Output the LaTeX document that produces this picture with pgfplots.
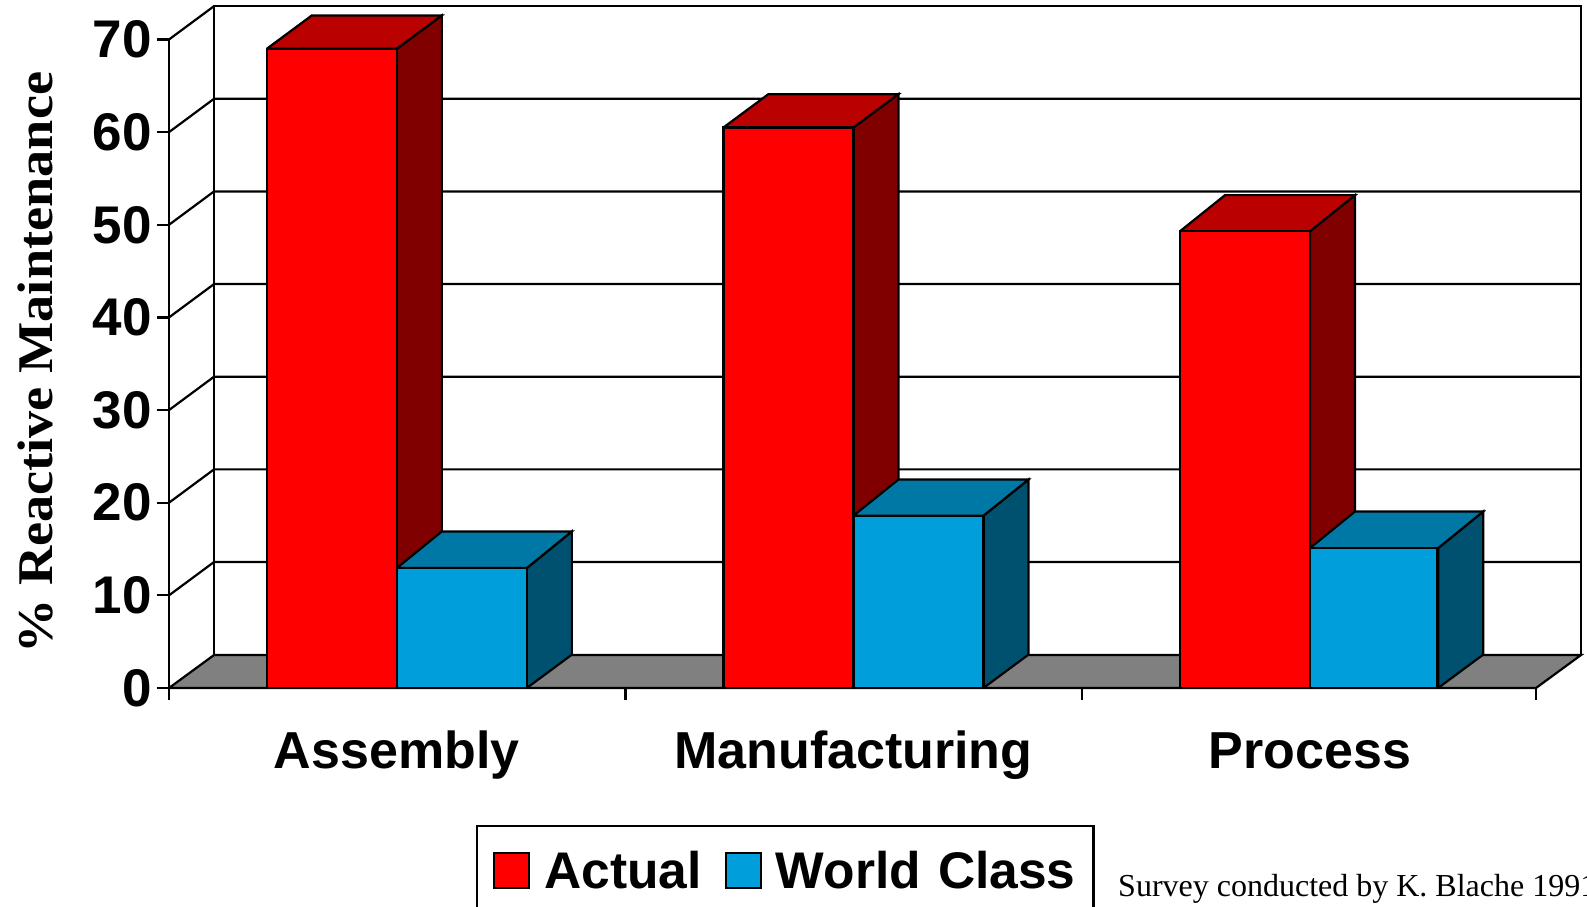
\documentclass[border=0pt]{standalone}
\usepackage{pgfplots}
\usepackage{fontspec}
\setmainfont{Liberation Sans}
\newfontfamily\tms{Liberation Serif}
\pgfplotsset{compat=1.18}
\definecolor{redfront}{RGB}{255,0,0}
\definecolor{redtop}{RGB}{187,0,0}
\definecolor{redside}{RGB}{128,0,0}
\definecolor{bluefront}{RGB}{0,159,219}
\definecolor{bluetop}{RGB}{0,120,165}
\definecolor{blueside}{RGB}{0,80,112}
\definecolor{floorgray}{RGB}{128,128,128}
\begin{document}
\begin{tikzpicture}[line join=miter]
\clip (-169pt,-218pt) rectangle (1418pt,688pt);
\begin{axis}[
  at={(0pt,0pt)}, anchor=south west,
  scale only axis, width=1367pt, height=648.5pt,
  xmin=-0.5, xmax=2.5, ymin=0, ymax=70,
  clip=false, axis on top=true,
  axis x line*=bottom, axis y line*=left,
  axis line style={-,line width=2.2pt,black},
  xtick={0,1.002,2.004}, xticklabels={Assembly,Manufacturing,Process},
  minor xtick={-0.5,0.502,1.503,2.5},
  ytick={0,10,...,70},
  tick style={line width=2.2pt,black},
  major x tick style={draw=none},
  minor tick length=12pt,
  major tick length=12pt,
  tick align=outside,
  /pgf/number format/assume math mode=true,
  ticklabel style={font=\fontsize{53}{53}\selectfont\bfseries},
  yticklabel style={inner sep=0pt,xshift=-5pt},
  xticklabel style={inner sep=0pt,anchor=base,yshift=-68pt,font=\fontsize{52}{52}\selectfont\bfseries},
  ylabel={\tms\bfseries \% Reactive Maintenance},
  every axis y label/.style={at={(rel axis cs:-0.0975,0.5015)},rotate=90,yscale=0.92,anchor=center},
  ylabel style={font=\fontsize{54.3}{54}\selectfont},
  legend style={at={(rel axis cs:0.2246,-0.2113)},anchor=north west,draw=black,line width=2.2pt,
    font=\fontsize{51.5}{51}\selectfont\bfseries,fill=white,legend columns=2,
    inner xsep=16pt,inner ysep=23pt,
    /tikz/column 1/.style={column sep=12pt},
    /tikz/column 2/.style={column sep=21pt},
    /tikz/column 3/.style={column sep=12pt}},
  legend cell align=left,
  legend image code/.code={\draw[#1,draw=black,line width=2.2pt] (0pt,-17.5pt) rectangle (35pt,17.5pt);},
]
% floor
\addplot[forget plot,fill=floorgray,draw=black,line width=2.2pt] coordinates {(-0.5,0) (-0.4012,3.56) (2.5988,3.56) (2.5,0) (-0.5,0)};
% back wall and side wall outlines
\addplot[forget plot,black,line width=2.2pt] coordinates {(-0.4012,3.56) (-0.4012,73.6) (2.5988,73.6) (2.5988,3.56)};
\addplot[forget plot,black,line width=2.2pt] coordinates {(-0.5,70) (-0.4012,73.6)};
% gridlines
\addplot[forget plot,black,line width=2.2pt] coordinates {(-0.5,10) (-0.4012,13.6) (2.5988,13.6)};
\addplot[forget plot,black,line width=2.2pt] coordinates {(-0.5,20) (-0.4012,23.6) (2.5988,23.6)};
\addplot[forget plot,black,line width=2.2pt] coordinates {(-0.5,30) (-0.4012,33.6) (2.5988,33.6)};
\addplot[forget plot,black,line width=2.2pt] coordinates {(-0.5,40) (-0.4012,43.6) (2.5988,43.6)};
\addplot[forget plot,black,line width=2.2pt] coordinates {(-0.5,50) (-0.4012,53.6) (2.5988,53.6)};
\addplot[forget plot,black,line width=2.2pt] coordinates {(-0.5,60) (-0.4012,63.6) (2.5988,63.6)};
% Actual: tops and sides
\addplot[forget plot,fill=redside,draw=black,line width=2.2pt] coordinates {(0,0) (0.0988,3.6) (0.0988,72.6) (0,69) (0,0)};
\addplot[forget plot,fill=redtop,draw=black,line width=2.2pt] coordinates {(-0.2853,69) (0,69) (0.0988,72.6) (-0.1865,72.6) (-0.2853,69)};
\addplot[forget plot,fill=redside,draw=black,line width=2.2pt] coordinates {(1.002,0) (1.1008,3.6) (1.1008,64.1) (1.002,60.5) (1.002,0)};
\addplot[forget plot,fill=redtop,draw=black,line width=2.2pt] coordinates {(0.7167,60.5) (1.002,60.5) (1.1008,64.1) (0.8155,64.1) (0.7167,60.5)};
\addplot[forget plot,fill=redside,draw=black,line width=2.2pt] coordinates {(2.004,0) (2.1028,3.6) (2.1028,53.2) (2.004,49.3) (2.004,0)};
\addplot[forget plot,fill=redtop,draw=black,line width=2.2pt] coordinates {(1.7187,49.3) (2.004,49.3) (2.1028,53.2) (1.8175,53.2) (1.7187,49.3)};
% Actual: fronts
\addplot[ybar,bar width=130pt,bar shift=-65pt,fill=redfront,draw=black,line width=2.2pt] coordinates {(0,69) (1.002,60.5) (2.004,49.3)};
\addlegendentry{Actual}
% World Class: tops and sides
\addplot[forget plot,fill=blueside,draw=black,line width=2.2pt] coordinates {(0.2853,0) (0.3841,3.6) (0.3841,16.9) (0.2853,12.95) (0.2853,0)};
\addplot[forget plot,fill=bluetop,draw=black,line width=2.2pt] coordinates {(0,12.95) (0.2853,12.95) (0.3841,16.9) (0.0988,16.9) (0,12.95)};
\addplot[forget plot,fill=blueside,draw=black,line width=2.2pt] coordinates {(1.2873,0) (1.3861,3.6) (1.3861,22.5) (1.2873,18.6) (1.2873,0)};
\addplot[forget plot,fill=bluetop,draw=black,line width=2.2pt] coordinates {(1.002,18.6) (1.2873,18.6) (1.3861,22.5) (1.1008,22.5) (1.002,18.6)};
\addplot[forget plot,fill=blueside,draw=black,line width=2.2pt] coordinates {(2.2853,0) (2.3841,3.6) (2.3841,19.05) (2.2853,15.1) (2.2853,0)};
\addplot[forget plot,fill=bluetop,draw=black,line width=2.2pt] coordinates {(2.004,15.1) (2.2853,15.1) (2.3841,19.05) (2.1028,19.05) (2.004,15.1)};
% World Class: fronts
\addplot[ybar,bar width=130pt,bar shift=65pt,fill=bluefront,draw=black,line width=2.2pt] coordinates {(0,12.95) (1.002,18.6)};
\addlegendentry{World\hspace{3pt} Class\hspace{-10pt}}
\addplot[forget plot,ybar,bar width=127.5pt,bar shift=63.75pt,fill=bluefront,draw=black,line width=2.2pt] coordinates {(2.004,15.1)};
\node[anchor=base west,inner sep=0pt,font=\fontsize{32}{32}\selectfont\tms] at (axis cs:1.5827,-22.55) {Survey conducted by K. Blache 1991};
\end{axis}
\end{tikzpicture}
\end{document}
